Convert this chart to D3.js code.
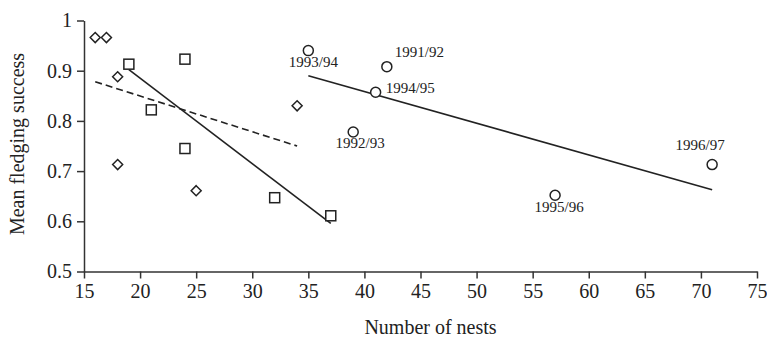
<!DOCTYPE html>
<html>
<head>
<meta charset="utf-8">
<script src="https://cdn.jsdelivr.net/npm/d3@7"></script>
<style>
  body { margin: 0; background: #fff; }
  svg text { font-family: "Liberation Serif", "Times New Roman", serif; fill: #222; }
  .axis path, .axis line { stroke: #333; stroke-width: 1.5; }
  .axis text { font-size: 20px; }
</style>
</head>
<body>
<svg class="chart"></svg>
<script>
// data
const diamondNests = [16, 17, 18, 18, 25, 34];
const diamondSuccess = [0.966, 0.966, 0.888, 0.713, 0.661, 0.830];

const squareNests = [19, 21, 24, 24, 32, 37];
const squareSuccess = [0.913, 0.822, 0.923, 0.745, 0.647, 0.611];

const seasons = ["1991/92", "1992/93", "1993/94", "1994/95", "1995/96", "1996/97"];
const seasonNests = [42, 39, 35, 41, 57, 71];
const seasonSuccess = [0.908, 0.778, 0.940, 0.857, 0.652, 0.713];

// fitted lines, start and end points
const fitDiamonds = [[16, 0.878], [34, 0.750]];
const fitSquares = [[19, 0.902], [37, 0.596]];
const fitSeasons = [[35, 0.890], [71, 0.663]];

const xTicks = [15, 20, 25, 30, 35, 40, 45, 50, 55, 60, 65, 70, 75];
const yTicks = [0.5, 0.6, 0.7, 0.8, 0.9, 1];

const canvas = {width: 767, height: 338};
const margin = {top: 20.5, right: 10, bottom: 66.5, left: 84};
const chart_dimensions = {
    width: canvas.width - (margin.left + margin.right),
    height: canvas.height - (margin.top + margin.bottom)
};

const svg = d3.select(".chart")
    .attr("width", canvas.width)
    .attr("height", canvas.height);

const x = d3.scaleLinear().domain([15, 75]).range([0, chart_dimensions.width]);
const y = d3.scaleLinear().domain([0.5, 1]).range([chart_dimensions.height, 0]);

const g = svg.append("g")
    .attr("transform", "translate(" + margin.left + "," + margin.top + ")");

// axes
g.append("g")
    .attr("class", "axis")
    .attr("transform", "translate(0," + chart_dimensions.height + ")")
    .call(d3.axisBottom(x).tickValues(xTicks).tickSize(7).tickSizeOuter(0).tickPadding(5))
    .call(a => a.selectAll("text").attr("fill", "#222"));

g.append("g")
    .attr("class", "axis")
    .call(d3.axisLeft(y).tickValues(yTicks).tickSize(7).tickSizeOuter(0).tickPadding(5)
        .tickFormat(d => d === 1 ? "1" : d3.format(".1f")(d)))
    .call(a => a.selectAll("text").attr("fill", "#222"));

svg.append("text")
    .attr("transform", "translate(" + (margin.left + chart_dimensions.width / 2 + 10) + "," + 334 + ")")
    .style("text-anchor", "middle")
    .style("font-size", "20px")
    .text("Number of nests");

svg.append("text")
    .attr("transform", "translate(24," + (margin.top + chart_dimensions.height / 2 - 2) + ") rotate(-90)")
    .style("text-anchor", "middle")
    .style("font-size", "20px")
    .text("Mean fledging success");

// regression lines
const line = d3.line().x(d => x(d[0])).y(d => y(d[1]));

g.append("path").datum(fitDiamonds)
    .attr("d", line)
    .attr("fill", "none").attr("stroke", "#222").attr("stroke-width", 1.6)
    .attr("stroke-dasharray", "7,4");

g.append("path").datum(fitSquares)
    .attr("d", line)
    .attr("fill", "none").attr("stroke", "#222").attr("stroke-width", 1.6);

g.append("path").datum(fitSeasons)
    .attr("d", line)
    .attr("fill", "none").attr("stroke", "#222").attr("stroke-width", 1.6);

// diamonds
g.selectAll(".diamond")
    .data(d3.zip(diamondNests, diamondSuccess))
    .enter()
    .append("path")
    .classed("diamond", true)
    .attr("d", "M0,-5L5,0L0,5L-5,0Z")
    .attr("transform", d => "translate(" + x(d[0]) + "," + y(d[1]) + ")")
    .attr("fill", "#fff").attr("stroke", "#222").attr("stroke-width", 1.5);

// squares
g.selectAll(".square")
    .data(d3.zip(squareNests, squareSuccess))
    .enter()
    .append("rect")
    .classed("square", true)
    .attr("x", d => x(d[0]) - 5)
    .attr("y", d => y(d[1]) - 5)
    .attr("width", 10).attr("height", 10)
    .attr("fill", "#fff").attr("stroke", "#222").attr("stroke-width", 1.5);

// season circles
g.selectAll(".season")
    .data(d3.zip(seasonNests, seasonSuccess))
    .enter()
    .append("circle")
    .classed("season", true)
    .attr("cx", d => x(d[0]))
    .attr("cy", d => y(d[1]))
    .attr("r", 5)
    .attr("fill", "#fff").attr("stroke", "#222").attr("stroke-width", 1.5);

// season labels
const labelPlace = {
    "1991/92": {anchor: "start", dx: 8, dy: -10},
    "1992/93": {anchor: "middle", dx: 7, dy: 16},
    "1993/94": {anchor: "middle", dx: 5, dy: 16},
    "1994/95": {anchor: "start", dx: 10, dy: 1},
    "1995/96": {anchor: "middle", dx: 4, dy: 17},
    "1996/97": {anchor: "middle", dx: -12, dy: -15}
};

g.selectAll(".season-label")
    .data(seasons)
    .enter()
    .append("text")
    .classed("season-label", true)
    .attr("x", (d, i) => x(seasonNests[i]) + labelPlace[d].dx)
    .attr("y", (d, i) => y(seasonSuccess[i]) + labelPlace[d].dy)
    .style("text-anchor", d => labelPlace[d].anchor)
    .style("font-size", "15px")
    .text(d => d);
</script>
</body>
</html>
